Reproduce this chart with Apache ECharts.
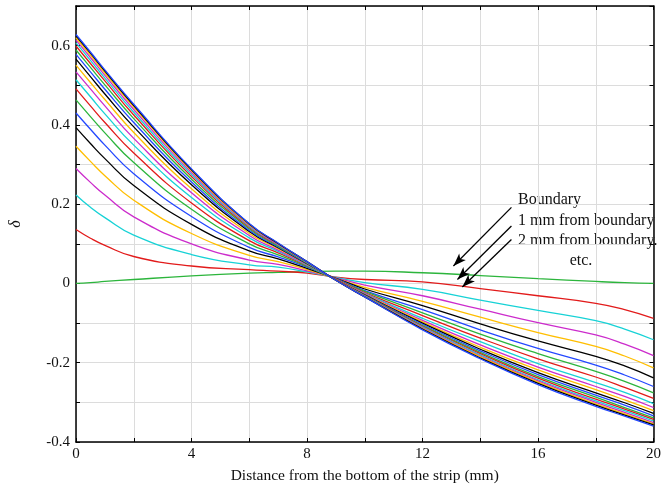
<!DOCTYPE html>
<html>
<head>
<meta charset="utf-8">
<script src="https://cdn.jsdelivr.net/npm/echarts@6/dist/echarts.min.js"></script>
<style>
  html, body { margin: 0; padding: 0; background: #fff; }
  #chart { width: 664px; height: 489px; }
</style>
</head>
<body>
<div id="chart"></div>
<script>
  'use strict'

  /* positions along the strip (mm) */
  var xs = [0, 0.5, 1, 2, 4, 6, 7, 8, 9, 10, 12, 14, 16, 18, 19, 20];

  /* delta for each curve, 0 mm ... 20 mm from the boundary */
  var mm0  = [0.000, 0.002, 0.005, 0.010, 0.019, 0.026, 0.028, 0.030, 0.031, 0.031, 0.027, 0.020, 0.012, 0.005, 0.002, 0.000];
  var mm1  = [0.136, 0.114, 0.096, 0.068, 0.044, 0.035, 0.031, 0.026, 0.016, 0.010, 0.004, -0.013, -0.031, -0.050, -0.066, -0.088];
  var mm2  = [0.223, 0.192, 0.166, 0.122, 0.073, 0.047, 0.041, 0.029, 0.015, 0.002, -0.015, -0.042, -0.068, -0.094, -0.115, -0.142];
  var mm3  = [0.290, 0.255, 0.223, 0.168, 0.100, 0.059, 0.048, 0.032, 0.014, -0.004, -0.031, -0.065, -0.099, -0.130, -0.153, -0.182];
  var mm4  = [0.346, 0.308, 0.272, 0.210, 0.126, 0.071, 0.055, 0.035, 0.013, -0.010, -0.045, -0.085, -0.124, -0.159, -0.183, -0.213];
  var mm5  = [0.393, 0.353, 0.315, 0.247, 0.149, 0.082, 0.062, 0.038, 0.013, -0.014, -0.056, -0.102, -0.145, -0.184, -0.208, -0.238];
  var mm6  = [0.430, 0.389, 0.349, 0.277, 0.169, 0.091, 0.067, 0.041, 0.012, -0.018, -0.066, -0.117, -0.164, -0.206, -0.231, -0.260];
  var mm7  = [0.463, 0.421, 0.380, 0.305, 0.187, 0.100, 0.072, 0.043, 0.011, -0.020, -0.074, -0.128, -0.177, -0.222, -0.247, -0.276];
  var mm8  = [0.491, 0.448, 0.406, 0.329, 0.203, 0.108, 0.077, 0.045, 0.011, -0.023, -0.081, -0.138, -0.190, -0.236, -0.262, -0.290];
  var mm9  = [0.514, 0.471, 0.428, 0.349, 0.217, 0.115, 0.081, 0.046, 0.010, -0.025, -0.088, -0.147, -0.202, -0.250, -0.275, -0.303];
  var mm10 = [0.534, 0.491, 0.448, 0.366, 0.229, 0.121, 0.084, 0.048, 0.010, -0.026, -0.093, -0.155, -0.211, -0.260, -0.285, -0.313];
  var mm11 = [0.551, 0.507, 0.464, 0.381, 0.239, 0.126, 0.088, 0.049, 0.010, -0.028, -0.097, -0.161, -0.218, -0.268, -0.294, -0.321];
  var mm12 = [0.566, 0.522, 0.478, 0.395, 0.249, 0.131, 0.090, 0.050, 0.009, -0.029, -0.100, -0.166, -0.225, -0.276, -0.301, -0.328];
  var mm13 = [0.578, 0.534, 0.490, 0.406, 0.256, 0.134, 0.092, 0.051, 0.009, -0.030, -0.103, -0.170, -0.230, -0.282, -0.307, -0.334];
  var mm14 = [0.589, 0.545, 0.501, 0.416, 0.263, 0.138, 0.094, 0.052, 0.009, -0.031, -0.106, -0.174, -0.235, -0.287, -0.313, -0.339];
  var mm15 = [0.599, 0.555, 0.511, 0.425, 0.270, 0.141, 0.097, 0.053, 0.009, -0.031, -0.108, -0.177, -0.239, -0.292, -0.317, -0.343];
  var mm16 = [0.607, 0.563, 0.518, 0.432, 0.275, 0.144, 0.098, 0.053, 0.008, -0.032, -0.110, -0.180, -0.243, -0.296, -0.321, -0.347];
  var mm17 = [0.614, 0.570, 0.525, 0.439, 0.280, 0.146, 0.099, 0.054, 0.008, -0.033, -0.112, -0.183, -0.246, -0.300, -0.325, -0.351];
  var mm18 = [0.620, 0.576, 0.531, 0.445, 0.284, 0.148, 0.101, 0.054, 0.008, -0.033, -0.114, -0.185, -0.249, -0.304, -0.329, -0.354];
  var mm19 = [0.625, 0.581, 0.536, 0.449, 0.287, 0.150, 0.101, 0.055, 0.008, -0.034, -0.115, -0.188, -0.252, -0.307, -0.332, -0.357];
  var mm20 = [0.628, 0.584, 0.539, 0.452, 0.289, 0.151, 0.102, 0.055, 0.008, -0.034, -0.117, -0.190, -0.255, -0.310, -0.335, -0.360];

  var curves = [mm0, mm1, mm2, mm3, mm4, mm5, mm6, mm7, mm8, mm9, mm10,
                mm11, mm12, mm13, mm14, mm15, mm16, mm17, mm18, mm19, mm20];

  /* tick labels */
  var xTicks = [0, 4, 8, 12, 16, 20];
  var yTicks = [-0.4, -0.2, 0, 0.2, 0.4, 0.6];

  var palette = ['#2cb53c', '#e21b1b', '#17d2d6', '#cc2ccc', '#ffbe00', '#000000', '#2348ff'];
  var serif = '"Liberation Serif", "DejaVu Serif", serif';

  var chart = echarts.init(document.getElementById('chart'));

  var series = curves.map(function (ys, k) {
    return {
      name: k + ' mm',
      type: 'line',
      data: xs.map(function (x, i) { return [x, ys[i]]; }),
      smooth: 0.5,
      showSymbol: false,
      symbol: 'none',
      z: 2 + k,
      lineStyle: { color: palette[k % palette.length], width: 1.3 },
      color: palette[k % palette.length]
    };
  });

  /* arrows pointing at the first curves */
  series[0].markLine = {
    silent: true,
    symbol: ['none', 'arrow'],
    symbolSize: [7, 13],
    label: { show: false },
    lineStyle: { color: '#000', width: 1.3, type: 'solid' },
    itemStyle: { color: '#000' },
    data: [
      [{ coord: [15.08, 0.192] }, { coord: [13.07, 0.044] }],
      [{ coord: [15.08, 0.145] }, { coord: [13.21, 0.010] }],
      [{ coord: [15.08, 0.111] }, { coord: [13.38, -0.009] }]
    ]
  };

  function isTick(list, v) {
    for (var i = 0; i < list.length; i++) {
      if (Math.abs(list[i] - v) < 1e-6) return true;
    }
    return false;
  }

  var frame = { onZero: false, lineStyle: { color: '#000', width: 1.5 } };
  var innerTick = { show: true, inside: true, length: 4, lineStyle: { color: '#000' } };

  var option = {
    animation: false,
    backgroundColor: '#fff',
    grid: { left: 69, right: 8, top: 6, bottom: 46 },
    xAxis: [{
      type: 'value',
      min: 0,
      max: 20,
      interval: 2,
      name: 'Distance from the bottom of the strip (mm)',
      nameLocation: 'middle',
      nameGap: 26,
      nameTextStyle: { fontFamily: serif, fontSize: 15.5, color: '#111' },
      axisLine: frame,
      axisTick: innerTick,
      axisLabel: {
        margin: 5,
        fontFamily: serif,
        fontSize: 15,
        color: '#111',
        formatter: function (v) { return isTick(xTicks, v) ? String(v) : ''; }
      },
      splitLine: { show: true, lineStyle: { color: '#dcdcdc', width: 1 } }
    }, {
      type: 'value',
      position: 'top',
      min: 0,
      max: 20,
      interval: 2,
      axisLine: frame,
      axisTick: innerTick,
      axisLabel: { show: false },
      splitLine: { show: false }
    }],
    yAxis: [{
      type: 'value',
      min: -0.4,
      max: 0.7,
      interval: 0.1,
      name: 'δ',
      nameLocation: 'middle',
      nameRotate: 90,
      nameGap: 52,
      nameTextStyle: { fontFamily: serif, fontSize: 16, fontStyle: 'italic', color: '#111' },
      axisLine: frame,
      axisTick: innerTick,
      axisLabel: {
        margin: 6,
        fontFamily: serif,
        fontSize: 15,
        color: '#111',
        formatter: function (v) { return isTick(yTicks, v) ? String(Math.round(v * 10) / 10) : ''; }
      },
      splitLine: { show: true, lineStyle: { color: '#dcdcdc', width: 1 } }
    }, {
      type: 'value',
      position: 'right',
      min: -0.4,
      max: 0.7,
      interval: 0.1,
      axisLine: { show: true, onZero: false, lineStyle: { color: '#000', width: 1.5 } },
      axisTick: innerTick,
      axisLabel: { show: false },
      splitLine: { show: false }
    }],
    graphic: [
      { type: 'text', x: 518, y: 200, style: { text: 'Boundary', font: '16px ' + serif, fill: '#111', verticalAlign: 'middle' } },
      { type: 'text', x: 518, y: 221, style: { text: '1 mm from boundary', font: '16px ' + serif, fill: '#111', verticalAlign: 'middle' } },
      { type: 'text', x: 518, y: 241, style: { text: '2 mm from boundary.', font: '16px ' + serif, fill: '#111', verticalAlign: 'middle' } },
      { type: 'text', x: 581, y: 261, style: { text: 'etc.', font: '16px ' + serif, fill: '#111', align: 'center', verticalAlign: 'middle' } }
    ],
    series: series
  };

  chart.setOption(option);
</script>
</body>
</html>
